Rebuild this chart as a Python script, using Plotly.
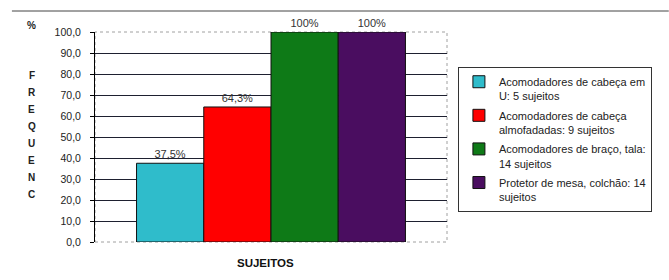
import plotly.graph_objects as go

series_names = [
    "Acomodadores de cabeça em<br>U: 5 sujeitos",
    "Acomodadores de cabeça<br>almofadadas: 9 sujeitos",
    "Acomodadores de braço, tala:<br>14 sujeitos",
    "Protetor de mesa, colchão: 14<br>sujeitos",
]
series_values = [37.5, 64.3, 100.0, 100.0]
value_labels = ["37,5%", "64,3%", "100%", "100%"]
series_colors = ["#2FBCCB", "#FF0000", "#0E7A17", "#4A0D60"]
category = [""]
y_ticks = [0, 10, 20, 30, 40, 50, 60, 70, 80, 90, 100]
y_ticktext = ["0,0", "10,0", "20,0", "30,0", "40,0", "50,0", "60,0", "70,0", "80,0", "90,0", "100,0"]
y_title_letters = ["F", "R", "E", "Q", "U", "E", "N", "C"]
x_title = "SUJEITOS"

fig = go.Figure()
for i, (name, val, lab, col) in enumerate(zip(series_names, series_values, value_labels, series_colors)):
    fig.add_trace(go.Bar(
        x=category, y=[val], name=name, text=[lab], legendgroup=f"g{i}",
        textposition="outside", cliponaxis=False,
        textfont=dict(family="Liberation Sans, Arial", size=11, color="#333333"),
        marker=dict(color=col, line=dict(color="#111111", width=1)),
    ))

annotations = [
    dict(text="<b>%</b>", xref="paper", yref="paper", x=-0.179, y=1.033,
         xanchor="center", yanchor="middle",
         showarrow=False, font=dict(size=10, color="#222222")),
    dict(text=f"<b>{x_title}</b>", xref="paper", yref="paper", x=0.483, y=-0.1,
         xanchor="center", yanchor="middle",
         showarrow=False, font=dict(size=11.5, color="#111111")),
]
for i, ch in enumerate(y_title_letters):
    annotations.append(dict(text=f"<b>{ch}</b>", xref="paper", yref="paper",
                            x=-0.179, y=0.795, yshift=-17.1 * i, showarrow=False,
                            xanchor="center", yanchor="middle",
                            font=dict(size=10, color="#222222")))

fig.update_layout(
    width=669, height=280,
    margin=dict(l=95, r=222, t=32, b=38),
    paper_bgcolor="white", plot_bgcolor="white",
    barmode="group", bargap=0.236, bargroupgap=0,
    font=dict(family="Liberation Sans, Arial", size=11, color="#222222"),
    showlegend=True,
    legend=dict(
        x=1.031, y=0.833, xanchor="left", yanchor="top",
        bordercolor="#333333", borderwidth=1, bgcolor="white",
        font=dict(size=11, color="#222222"),
        valign="top", tracegroupgap=2, itemwidth=30,
    ),
    xaxis=dict(
        showticklabels=False, showgrid=False, zeroline=False,
        showline=False, ticks="",
    ),
    yaxis=dict(
        range=[0, 100], tickvals=y_ticks, ticktext=y_ticktext,
        showgrid=True, gridcolor="#1E2030", gridwidth=1,
        zeroline=False, showline=True, linecolor="#000000", linewidth=1,
        ticks="outside", ticklen=4, tickcolor="#000000",
        ticklabelstandoff=7,
        tickfont=dict(size=10.5, color="#222222"),
    ),
    shapes=[
        dict(type="rect", xref="paper", yref="paper", x0=0, x1=1, y0=0, y1=1,
             line=dict(color="#A0A0A0", width=1, dash="dot"), layer="below"),
        dict(type="line", xref="paper", yref="paper", x0=-0.236, x1=1.63, y0=1.1, y1=1.1,
             line=dict(color="#444444", width=1)),
    ],
    annotations=annotations,
)

fig.write_html("out.html", config={"displayModeBar": False},
               post_script="document.body.style.margin='0';")
